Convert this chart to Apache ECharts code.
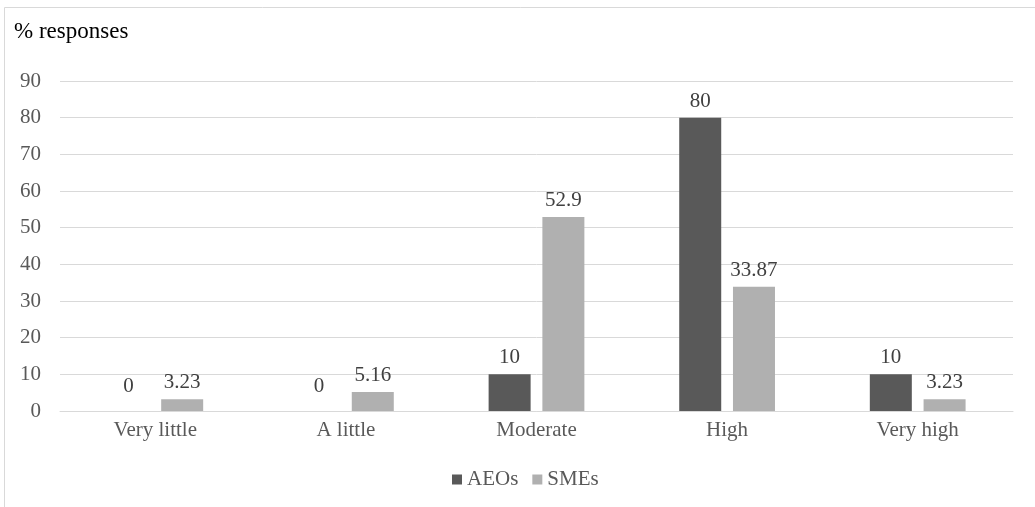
<!DOCTYPE html>
<html>
<head>
<meta charset="utf-8">
<style>html,body{margin:0;padding:0;background:#fff;}#c{width:1035px;height:507px;}</style>
<script src="https://cdn.jsdelivr.net/npm/echarts@6/dist/echarts.min.js"></script>
</head>
<body>
<div id="c"></div>
<script>
const categories = ['Very little', 'A little', 'Moderate', 'High', 'Very high'];
const aeos = [0, 0, 10, 80, 10];
const smes = [3.23, 5.16, 52.9, 33.87, 3.23];
const seriesNames = ['AEOs', 'SMEs'];
const yTicks = [0, 90, 10];

const FONT = '"Liberation Serif", "Times New Roman", serif';
const FS = 21;
const chart = echarts.init(document.getElementById('c'));
function withZeroLabels(arr) {
  return arr.map(v => v === 0 ? { value: v, label: { distance: 14 } } : v);
}
chart.setOption({
  animation: false,
  textStyle: { fontFamily: FONT },
  graphic: [{
    type: 'rect', shape: { x: 4.5, y: 7.5, width: 1040, height: 520 },
    style: { fill: 'none', stroke: '#d9d9d9', lineWidth: 1 }, silent: true, z: -1
  }],
  title: {
    text: '% responses', left: 9, top: 15,
    textStyle: { fontFamily: FONT, fontSize: 23, fontWeight: 'normal', color: '#000' }
  },
  legend: {
    data: seriesNames, bottom: 12, left: 447, icon: 'rect',
    itemWidth: 10, itemHeight: 10, itemGap: 14,
    textStyle: { fontFamily: FONT, fontSize: FS, color: '#595959' }
  },
  grid: { left: 60, right: 22, top: 81, bottom: 96 },
  xAxis: {
    type: 'category', data: categories,
    axisLine: { lineStyle: { color: '#d9d9d9' } },
    axisTick: { show: false },
    axisLabel: { fontFamily: FONT, fontSize: FS, color: '#595959', margin: 9 }
  },
  yAxis: {
    type: 'value', min: yTicks[0], max: yTicks[1], interval: yTicks[2],
    axisLine: { show: false }, axisTick: { show: false },
    splitLine: { lineStyle: { color: '#d9d9d9' } },
    axisLabel: { fontFamily: FONT, fontSize: FS, color: '#595959', margin: 19 }
  },
  series: [
    {
      name: seriesNames[0], type: 'bar', data: withZeroLabels(aeos),
      barWidth: 42, barGap: '28%',
      itemStyle: { color: '#595959' },
      label: { show: true, position: 'top', distance: 6, fontFamily: FONT, fontSize: FS, color: '#404040' }
    },
    {
      name: seriesNames[1], type: 'bar', data: smes,
      barWidth: 42, barGap: '28%',
      itemStyle: { color: '#b0b0b0' },
      label: { show: true, position: 'top', distance: 6, fontFamily: FONT, fontSize: FS, color: '#404040' }
    }
  ]
});
</script>
</body>
</html>
